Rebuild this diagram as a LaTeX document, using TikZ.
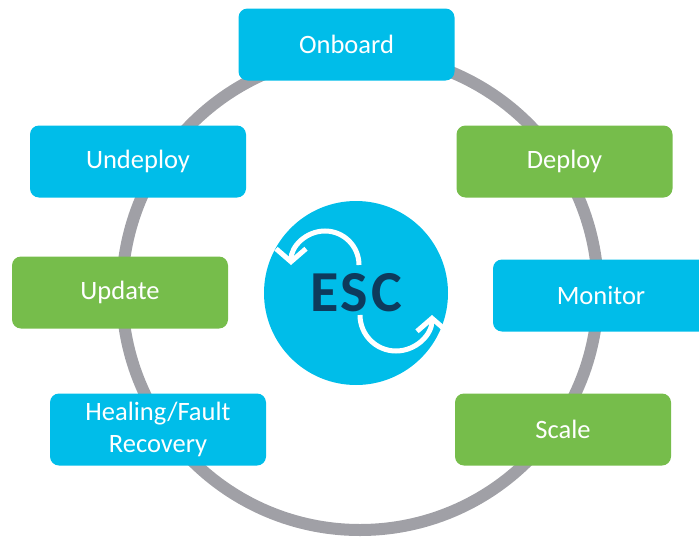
\documentclass[tikz,border=0pt]{standalone}
\usepackage{fontspec}
\setmainfont{Carlito}
\usetikzlibrary{arrows.meta}

\definecolor{esccyan}{RGB}{0,189,233}
\definecolor{escgreen}{RGB}{118,189,75}
\definecolor{ringgray}{RGB}{160,160,166}
\definecolor{escnavy}{RGB}{14,58,92}

\begin{document}
\begin{tikzpicture}[
    x=1pt, y=-1pt,
    stage/.style={rounded corners=9pt, minimum width=216pt, minimum height=72pt, inner sep=0pt, align=center, text=white, font=\fontsize{26.5}{32}\selectfont},
    bluestage/.style={stage, fill=esccyan},
    greenstage/.style={stage, fill=escgreen},
    ring/.style={draw=ringgray, line width=12pt},
    cycle/.style={draw=white, line width=5pt, -{Straight Barb[length=13pt, width=30pt]}}
]
\useasboundingbox (0,0) rectangle (699,538);
\clip (0,0) rectangle (699,538);

% Lifecycle ring
\draw[ring] (360,292) circle[radius=238];

% ESC hub
\node[circle, fill=esccyan, minimum size=184pt, inner sep=0pt, text=escnavy, font=\fontsize{58}{58}\selectfont\bfseries\addfontfeature{LetterSpace=5}] (esc) at (356,293) {ESC};
\draw[cycle] ([shift={(3,-28)}]esc.center) arc[start angle=0, end angle=-180, radius=34];
\draw[cycle] ([shift={(4,22)}]esc.center) arc[start angle=180, end angle=0, radius=36];

% Stages round the ring
\node[bluestage]  (onboard)  at (346.5,44.5) {Onboard};
\node[greenstage] (deploy)   at (564.5,161.5) {Deploy};
\node[bluestage]  (monitor)  at (601,295.5) {Monitor};
\node[greenstage] (scale)    at (563,429.5) {Scale};
\node[bluestage]  (healing)  at (158,429.5) {Healing/Fault\\Recovery};
\node[greenstage] (update)   at (120,292.5) {Update};
\node[bluestage]  (undeploy) at (138,161.5) {Undeploy};

\end{tikzpicture}
\end{document}
